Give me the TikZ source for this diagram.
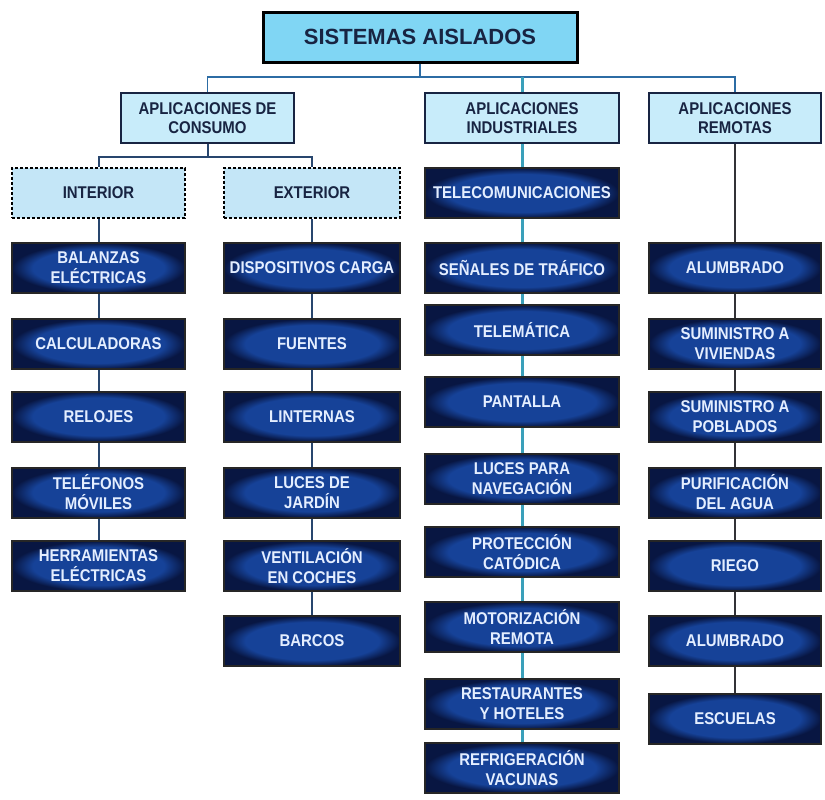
\documentclass[tikz,border=0pt]{standalone}
\usepackage{fontspec}
\setmainfont{Liberation Sans}
\newfontfamily\narrowfont{Liberation Sans}[FakeStretch=0.88]
\usepackage{tikz}
\usetikzlibrary{positioning}
\definecolor{rootfill}{RGB}{128,214,244}
\definecolor{catfill}{RGB}{200,236,250}
\definecolor{subfill}{RGB}{196,230,247}
\definecolor{inkblue}{RGB}{24,36,66}
\definecolor{itemhi}{RGB}{22,66,152}
\definecolor{itemlo}{RGB}{8,22,66}
\definecolor{itemtext}{RGB}{228,238,255}
\definecolor{buslink}{RGB}{44,108,164}
\definecolor{navylink}{RGB}{40,70,110}
\definecolor{teallink}{RGB}{58,160,186}
\definecolor{greylink}{RGB}{50,50,55}
\pgfdeclareradialshading{itemglow}{\pgfpoint{0bp}{0bp}}{color(0bp)=(itemhi); color(19bp)=(itemhi); color(25bp)=(itemlo); color(50bp)=(itemlo)}

\begin{document}
\begin{tikzpicture}[
  x=0.5pt, y=-0.5pt,
  root/.style={rectangle, draw=black, line width=1.5pt, fill=rootfill,
               minimum width=157pt, minimum height=25pt, inner sep=0pt,
               font=\bfseries\fontsize{11}{13}\selectfont, text=inkblue},
  cat/.style={rectangle, draw=inkblue, line width=1pt, fill=catfill,
              minimum width=#1, minimum height=25pt, inner sep=0pt, align=center,
              font=\narrowfont\bfseries\fontsize{8.5}{9.5}\selectfont, text=inkblue},
  sub/.style={rectangle, draw=black, line width=1.4pt, dash pattern=on 1.6pt off 0.9pt,
              fill=subfill, minimum width=#1, minimum height=25pt, inner sep=0pt,
              font=\narrowfont\bfseries\fontsize{8.5}{10}\selectfont, text=inkblue},
  item/.style={rectangle, draw=black!85, line width=1pt, shading=itemglow,
               minimum width=#1, minimum height=25pt, inner sep=0pt, align=center,
               font=\narrowfont\bfseries\fontsize{8.5}{10}\selectfont, text=itemtext},
  bus/.style={draw=buslink, line width=0.8pt},
  link/.style={draw=navylink, line width=1pt},
  ind/.style={draw=teallink, line width=1.5pt},
  rem/.style={draw=greylink, line width=0.8pt}
]
\useasboundingbox (0,0) rectangle (825,799);

% Root
\node[root] (root) at (420,37) {SISTEMAS AISLADOS};

% Application groups
\node[cat=86.5pt] (consumo)   at (207.5,118) {APLICACIONES DE\\CONSUMO};
\node[cat=97pt]   (industria) at (522,118)   {APLICACIONES\\INDUSTRIALES};
\node[cat=86pt]   (remota)    at (735,118)   {APLICACIONES\\REMOTAS};

% Consumo split
\node[sub=86.5pt] (interior) at (98.5,193) {INTERIOR};
\node[sub=88pt]   (exterior) at (312,193)  {EXTERIOR};

% Interior column
\node[item=86.5pt] (balanzas) at (98.5,268)   {BALANZAS\\ELÉCTRICAS};
\node[item=86.5pt] (calcul)   at (98.5,344)   {CALCULADORAS};
\node[item=86.5pt] (relojes)  at (98.5,416.5) {RELOJES};
\node[item=86.5pt] (moviles)  at (98.5,492.5) {TELÉFONOS\\MÓVILES};
\node[item=86.5pt] (herram)   at (98.5,566)   {HERRAMIENTAS\\ELÉCTRICAS};

% Exterior column
\node[item=88pt] (carga)     at (312,268)   {DISPOSITIVOS CARGA};
\node[item=88pt] (fuentes)   at (312,344)   {FUENTES};
\node[item=88pt] (linternas) at (312,416.5) {LINTERNAS};
\node[item=88pt] (jardin)    at (312,492.5) {LUCES DE\\JARDÍN};
\node[item=88pt] (coches)    at (312,566)   {VENTILACIÓN\\EN COCHES};
\node[item=88pt] (barcos)    at (312,641)   {BARCOS};

% Industrial column
\node[item=97pt] (telecom)   at (522,193)   {TELECOMUNICACIONES};
\node[item=97pt] (senales)   at (522,268)   {SEÑALES DE TRÁFICO};
\node[item=97pt] (telematica) at (522,330)  {TELEMÁTICA};
\node[item=97pt] (pantalla)  at (522,402)   {PANTALLA};
\node[item=97pt] (navega)    at (522,478.5) {LUCES PARA\\NAVEGACIÓN};
\node[item=97pt] (catodica)  at (522,552)   {PROTECCIÓN\\CATÓDICA};
\node[item=97pt] (motor)     at (522,627)   {MOTORIZACIÓN\\REMOTA};
\node[item=97pt] (hoteles)   at (522,704)   {RESTAURANTES\\Y HOTELES};
\node[item=97pt] (vacunas)   at (522,768)   {REFRIGERACIÓN\\VACUNAS};

% Remote column
\node[item=86pt] (alumb1)    at (735,268)   {ALUMBRADO};
\node[item=86pt] (viviendas) at (735,343.5) {SUMINISTRO A\\VIVIENDAS};
\node[item=86pt] (poblados)  at (735,416.5) {SUMINISTRO A\\POBLADOS};
\node[item=86pt] (agua)      at (735,492.5) {PURIFICACIÓN\\DEL AGUA};
\node[item=86pt] (riego)     at (735,566)   {RIEGO};
\node[item=86pt] (alumb2)    at (735,641)   {ALUMBRADO};
\node[item=86pt] (escuelas)  at (735,718.5) {ESCUELAS};

% Top-level connectors
\coordinate (bus) at (420,77);
\coordinate (split) at (207.5,157);
\draw[bus] (root) -- (bus);
\draw[bus] (consumo.north) |- (bus) -| (remota.north);
\draw[ind] (industria.north) -- (industria.north |- bus);
\draw[link] (consumo) -- (split);
\draw[link] (interior.north) |- (split) -| (exterior.north);

% Column connectors
\foreach \a/\b in {interior/balanzas, balanzas/calcul, calcul/relojes,
                   relojes/moviles, moviles/herram}
  \draw[link] (\a) -- (\b);
\foreach \a/\b in {exterior/carga, carga/fuentes, fuentes/linternas,
                   linternas/jardin, jardin/coches, coches/barcos}
  \draw[link] (\a) -- (\b);
\foreach \a/\b in {industria/telecom, telecom/senales, senales/telematica,
                   telematica/pantalla, pantalla/navega, navega/catodica,
                   catodica/motor, motor/hoteles, hoteles/vacunas}
  \draw[ind] (\a) -- (\b);
\foreach \a/\b in {remota/alumb1, alumb1/viviendas, viviendas/poblados,
                   poblados/agua, agua/riego, riego/alumb2, alumb2/escuelas}
  \draw[rem] (\a) -- (\b);

\end{tikzpicture}
\end{document}
